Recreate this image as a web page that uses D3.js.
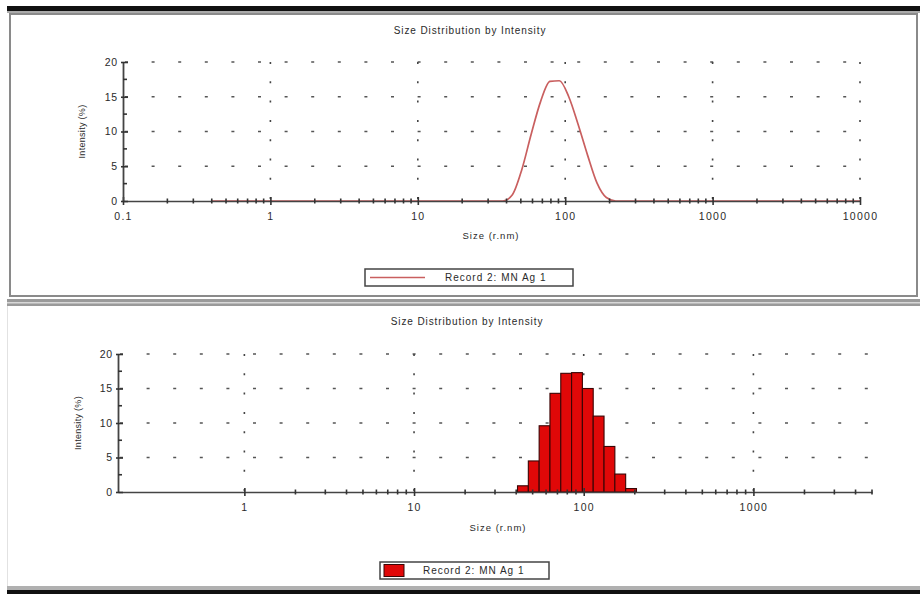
<!DOCTYPE html>
<html>
<head>
<meta charset="utf-8">
<script src="https://cdn.jsdelivr.net/npm/d3@7"></script>
<style>
body { margin: 0; background: #fff; }
svg { display: block; font-family: "Liberation Sans", Arial, sans-serif; }
</style>
</head>
<body>
<svg width="920" height="594"></svg>
<script>
// size classes (r.nm) and intensity (%)
var sizes = [37.84, 43.82, 50.75, 58.77, 68.06, 78.82, 91.28, 105.7, 122.4, 141.8, 164.2, 190.1, 220.2];
var intensity = [0, 0.9, 4.5, 9.6, 14.3, 17.2, 17.3, 15.0, 11.0, 6.6, 2.6, 0.5, 0];
var sizeRange = [0.4, 10000];

var yTicks = [0, 5, 10, 15, 20];
var yMinorTicks = [2.5, 7.5, 12.5, 17.5];
var topXTicks = [0.1, 1, 10, 100, 1000, 10000];
var bottomXTicks = [1, 10, 100, 1000];

var chartTitle = "Size Distribution by Intensity";
var xLabel = "Size (r.nm)";
var yLabel = "Intensity (%)";
var legendText = "Record 2: MN Ag 1";

var lineColor = "#c95f5f";
var barColor = "#e00808";
var ink = "#2a2a2a";

var svg = d3.select("svg");

// frames round the two panels
svg.append("rect").attr("x", 7).attr("y", 6).attr("width", 913).attr("height", 5).attr("fill", "#111");
svg.append("rect").attr("x", 7).attr("y", 11).attr("width", 913).attr("height", 2).attr("fill", "#aaa");
svg.append("rect").attr("x", 10).attr("y", 14).attr("width", 907).attr("height", 282)
  .attr("fill", "none").attr("stroke", "#8a8a8a").attr("stroke-width", 2);
svg.append("rect").attr("x", 7).attr("y", 299).attr("width", 913).attr("height", 7).attr("fill", "#9a9a9a");
svg.append("rect").attr("x", 7).attr("y", 302).attr("width", 913).attr("height", 1.5).attr("fill", "#d8d8d8");
svg.append("line").attr("x1", 7.5).attr("x2", 7.5).attr("y1", 306).attr("y2", 587).attr("stroke", "#e2e2e2");
svg.append("rect").attr("x", 7).attr("y", 586).attr("width", 913).attr("height", 4).attr("fill", "#b0b0b0");
svg.append("rect").attr("x", 7).attr("y", 590).attr("width", 913).attr("height", 4).attr("fill", "#111");

function drawPanel(p) {
  var g = svg.append("g");
  var x = d3.scaleLog().domain(p.xDomain).range(p.xRange);
  var y = d3.scaleLinear().domain([0, 20]).range(p.yRange);

  // title
  g.append("text").attr("x", p.titleX).attr("y", p.titleY)
    .attr("text-anchor", "middle").attr("font-size", "10px").attr("letter-spacing", "0.9px")
    .attr("fill", ink).text(chartTitle);

  // horizontal dotted grid
  g.selectAll(".hgrid").data(yTicks.slice(1)).enter().append("line")
    .attr("x1", p.xRange[0]).attr("x2", p.xRange[1])
    .attr("y1", function(d) { return y(d); }).attr("y2", function(d) { return y(d); })
    .attr("stroke", "#555").attr("stroke-width", 1.6)
    .attr("stroke-dasharray", "3,23.6").attr("stroke-dashoffset", -2);

  // vertical dotted grid at decades
  g.selectAll(".vgrid").data(p.xTicks.filter(function(d) { return x(d) > p.xRange[0] + 1; })).enter().append("line")
    .attr("x1", function(d) { return x(d); }).attr("x2", function(d) { return x(d); })
    .attr("y1", y(20)).attr("y2", y(0))
    .attr("stroke", "#444").attr("stroke-width", 1.6)
    .attr("stroke-dasharray", "2,17.3");

  // data
  if (p.kind == "line") {
    var pts = [[sizeRange[0], 0]].concat(sizes.map(function(s, i) { return [s, intensity[i]]; }), [[sizeRange[1], 0]]);
    g.append("path").datum(pts)
      .attr("d", d3.line().curve(d3.curveMonotoneX).x(function(d) { return x(d[0]); }).y(function(d) { return y(d[1]); }))
      .attr("fill", "none").attr("stroke", lineColor).attr("stroke-width", 1.7);
  } else {
    var bars = [];
    for (var i = 1; i < sizes.length - 1; i++) {
      if (intensity[i] > 0) {
        bars.push({ lo: Math.sqrt(sizes[i - 1] * sizes[i]), hi: Math.sqrt(sizes[i] * sizes[i + 1]), v: intensity[i] });
      }
    }
    g.selectAll(".bar").data(bars).enter().append("rect")
      .attr("x", function(d) { return x(d.lo); })
      .attr("width", function(d) { return x(d.hi) - x(d.lo); })
      .attr("y", function(d) { return y(d.v); })
      .attr("height", function(d) { return y(0) - y(d.v); })
      .attr("fill", barColor).attr("stroke", "#3a0505").attr("stroke-width", 1.1);
  }

  // x axis
  var xAxis = g.append("g").attr("transform", "translate(0," + y(0) + ")")
    .call(d3.axisBottom(x).tickValues(p.xTicks).tickFormat(d3.format("")).tickSize(4).tickSizeOuter(0));
  xAxis.select(".domain").attr("stroke", "#444").attr("stroke-width", 1.6);
  xAxis.selectAll(".tick line").attr("y1", -4).attr("stroke", "#333").attr("stroke-width", 1.6);
  xAxis.selectAll(".tick text").attr("y", 12).attr("dy", "0.71em").attr("font-size", "10.5px")
    .attr("letter-spacing", "1.3px").attr("fill", ink).attr("font-family", "Liberation Sans, Arial, sans-serif");

  var minor = [];
  p.xTicks.forEach(function(d) {
    for (var k = 2; k <= 9; k++) {
      var v = d * k;
      if (v > p.minorFrom && v <= p.xDomain[1] * 1.0001) minor.push(v);
    }
  });
  xAxis.selectAll(".minor").data(minor).enter().append("line")
    .attr("x1", function(d) { return x(d); }).attr("x2", function(d) { return x(d); })
    .attr("y1", -2.5).attr("y2", 2.5).attr("stroke", "#333").attr("stroke-width", 1.6);

  // y axis
  var yAxis = g.append("g").attr("transform", "translate(" + p.xRange[0] + ",0)")
    .call(d3.axisLeft(y).tickValues(yTicks).tickSize(3).tickSizeOuter(0));
  yAxis.select(".domain").attr("stroke", "#444").attr("stroke-width", 1.8);
  yAxis.selectAll(".tick line").attr("x2", 5).attr("x1", -2).attr("stroke", "#333").attr("stroke-width", 1.6);
  yAxis.selectAll(".tick text").attr("x", -5).attr("font-size", "10.5px").attr("letter-spacing", "0.8px")
    .attr("fill", ink).attr("font-family", "Liberation Sans, Arial, sans-serif");
  yAxis.selectAll(".yminor").data(yMinorTicks).enter().append("line")
    .attr("x1", 0).attr("x2", 4)
    .attr("y1", function(d) { return y(d); }).attr("y2", function(d) { return y(d); })
    .attr("stroke", "#333").attr("stroke-width", 1.6);

  // axis titles
  g.append("text").attr("x", p.xLabelX).attr("y", p.xLabelY)
    .attr("text-anchor", "middle").attr("font-size", "9.5px").attr("letter-spacing", "1px")
    .attr("fill", ink).text(xLabel);
  g.append("text")
    .attr("transform", "translate(" + p.yLabelX + "," + ((y(0) + y(20)) / 2) + ") rotate(-90)")
    .attr("text-anchor", "middle").attr("font-size", "9px").attr("letter-spacing", "0.3px")
    .attr("fill", ink).text(yLabel);

  // legend
  var lg = g.append("g").attr("transform", "translate(" + p.legend[0] + "," + p.legend[1] + ")");
  lg.append("rect").attr("width", p.legend[2]).attr("height", 17)
    .attr("fill", "#fff").attr("stroke", "#444").attr("stroke-width", 1.5);
  if (p.kind == "line") {
    lg.append("line").attr("x1", 5).attr("x2", 60).attr("y1", 8.5).attr("y2", 8.5)
      .attr("stroke", lineColor).attr("stroke-width", 1.6);
  } else {
    lg.append("rect").attr("x", 4).attr("y", 2.5).attr("width", 20).attr("height", 12)
      .attr("fill", barColor).attr("stroke", "#3a0505").attr("stroke-width", 1);
  }
  lg.append("text").attr("x", p.legendTextX).attr("y", 12)
    .attr("font-size", "10px").attr("letter-spacing", "1px").attr("fill", ink).text(legendText);
}

drawPanel({
  kind: "line",
  xDomain: [0.1, 10000], xRange: [123, 860], yRange: [201, 62],
  xTicks: topXTicks, minorFrom: 0.1,
  titleX: 470, titleY: 34,
  xLabelX: 491, xLabelY: 239, yLabelX: 85,
  legend: [365, 269, 208], legendTextX: 80
});

drawPanel({
  kind: "bar",
  xDomain: [0.18, 5000], xRange: [118, 872], yRange: [492, 354],
  xTicks: bottomXTicks, minorFrom: 1,
  titleX: 467, titleY: 325,
  xLabelX: 498, xLabelY: 531, yLabelX: 81,
  legend: [380, 562, 169], legendTextX: 43
});
</script>
</body>
</html>
